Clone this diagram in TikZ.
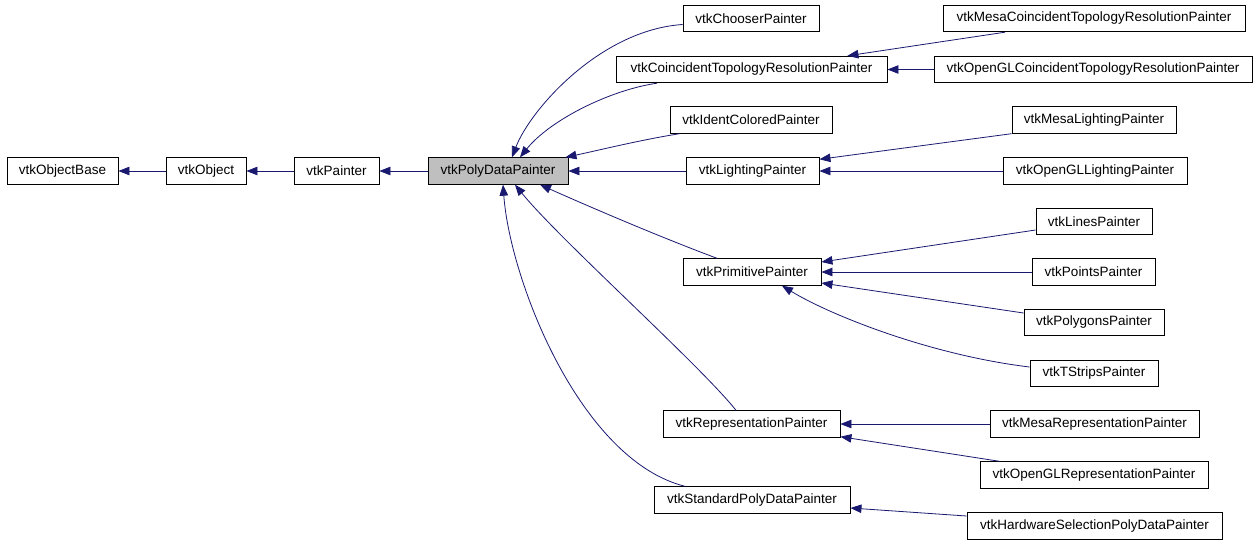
\documentclass[tikz,border=0pt]{standalone}
\usepackage{fontspec}
\setmainfont{Liberation Sans}
\usetikzlibrary{arrows.meta,calc}
\definecolor{edgeblue}{HTML}{191970}
\definecolor{boxgray}{HTML}{BFBFBF}
\tikzset{
  cls/.style={draw=black, line width=0.9pt, fill=white, inner sep=0pt, minimum height=26.5pt,
    font=\fontsize{13.5}{15}\selectfont, anchor=center},
  inh/.style={draw=edgeblue, line width=0.8pt, -{Triangle[length=11pt,width=8.5pt]}},
}
\begin{document}
\begin{tikzpicture}[x=1pt,y=-1pt]
\useasboundingbox[fill=white] (0,0) rectangle (1259,544);
% left chain
\node[cls, minimum width=111pt] (objbase) at (62.5,171) {vtkObjectBase};
\node[cls, minimum width=80pt] (obj) at (206,171) {vtkObject};
\node[cls, minimum width=85pt] (painter) at (336.5,171) {vtkPainter};
\node[cls, minimum width=140pt, fill=boxgray] (pdp) at (498,171) {vtkPolyDataPainter};
% middle column
\node[cls, minimum width=136pt] (chooser) at (751,18.5) {vtkChooserPainter};
\node[cls, minimum width=271pt] (coinc) at (751.5,69.5) {vtkCoincidentTopologyResolutionPainter};
\node[cls, minimum width=162pt] (ident) at (751,120) {vtkIdentColoredPainter};
\node[cls, minimum width=133pt] (light) at (752.5,171) {vtkLightingPainter};
\node[cls, minimum width=138pt] (prim) at (752,272) {vtkPrimitivePainter};
\node[cls, minimum width=177pt] (rep) at (751.5,424) {vtkRepresentationPainter};
\node[cls, minimum width=196pt] (std) at (752,500) {vtkStandardPolyDataPainter};
% right column
\node[cls, minimum width=302pt] (mesacoinc) at (1094,18.5) {vtkMesaCoincidentTopologyResolutionPainter};
\node[cls, minimum width=318pt] (glcoinc) at (1093,69.5) {vtkOpenGLCoincidentTopologyResolutionPainter};
\node[cls, minimum width=164pt] (mesalight) at (1094,120) {vtkMesaLightingPainter};
\node[cls, minimum width=184pt] (gllight) at (1095,171) {vtkOpenGLLightingPainter};
\node[cls, minimum width=116pt] (lines) at (1094,221.5) {vtkLinesPainter};
\node[cls, minimum width=123pt] (points) at (1093.5,272) {vtkPointsPainter};
\node[cls, minimum width=140pt] (polys) at (1094,322.5) {vtkPolygonsPainter};
\node[cls, minimum width=128pt] (tstrips) at (1094,373.5) {vtkTStripsPainter};
\node[cls, minimum width=209pt] (mesarep) at (1094.5,424) {vtkMesaRepresentationPainter};
\node[cls, minimum width=228pt] (glrep) at (1094,475) {vtkOpenGLRepresentationPainter};
\node[cls, minimum width=255pt] (hw) at (1094.5,526) {vtkHardwareSelectionPolyDataPainter};
% edges: left chain
\draw[inh] (obj) -- (objbase);
\draw[inh] (painter) -- (obj);
\draw[inh] (pdp.west) -- (painter.east);
% into pdp
\draw[inh] (light.west) -- (pdp.east);
\draw[inh] ($(chooser.west)+(0,6)$) .. controls (600,30) and (530,110) .. ($(pdp.north)+(14,0)$);
\draw[inh] ($(coinc.south)+(-94.5,0)$) .. controls (610,90) and (550,120) .. ($(pdp.north)+(22,0)$);
\draw[inh] ($(ident.south west)+(10,0)$) .. controls (640,140) and (600,150) .. ($(pdp.north east)+(-3,0)$);
\draw[inh] ($(prim.north)+(-35,0)$) .. controls (660,237) and (590,207) .. ($(pdp.south)+(42,0)$);
\draw[inh] ($(rep.north)+(-15.5,0)$) .. controls (700,365) and (560,240) .. ($(pdp.south)+(17,0)$);
\draw[inh] ($(std.north)+(-67,0)$) .. controls (580,460) and (510,280) .. ($(pdp.south)+(5,0)$);
% into coincident
\draw[inh] ($(mesacoinc.south)+(-89,0)$) -- ($(coinc.north east)+(-40,0)$);
\draw[inh] (glcoinc.west) -- (coinc.east);
% into lighting
\draw[inh] (mesalight.south west) -- ($(light.north east)+(0,2)$);
\draw[inh] (gllight.west) -- (light.east);
% into primitive
\draw[inh] ($(lines.west)+(0,8.5)$) -- ($(prim.east)+(0,-10)$);
\draw[inh] (points.west) -- (prim.east);
\draw[inh] ($(polys.west)+(0,-9.5)$) -- ($(prim.east)+(0,11)$);
\draw[inh] ($(tstrips.west)+(0,-6.5)$) .. controls (930,355) and (830,315) .. ($(prim.south)+(30,0)$);
% into representation
\draw[inh] (mesarep.west) -- (rep.east);
\draw[inh] ($(glrep.north west)+(20,0)$) -- ($(rep.south east)+(0,-1)$);
% into standard
\draw[inh] ($(hw.west)+(0,-10)$) -- ($(std.east)+(0,8)$);
\end{tikzpicture}
\end{document}
